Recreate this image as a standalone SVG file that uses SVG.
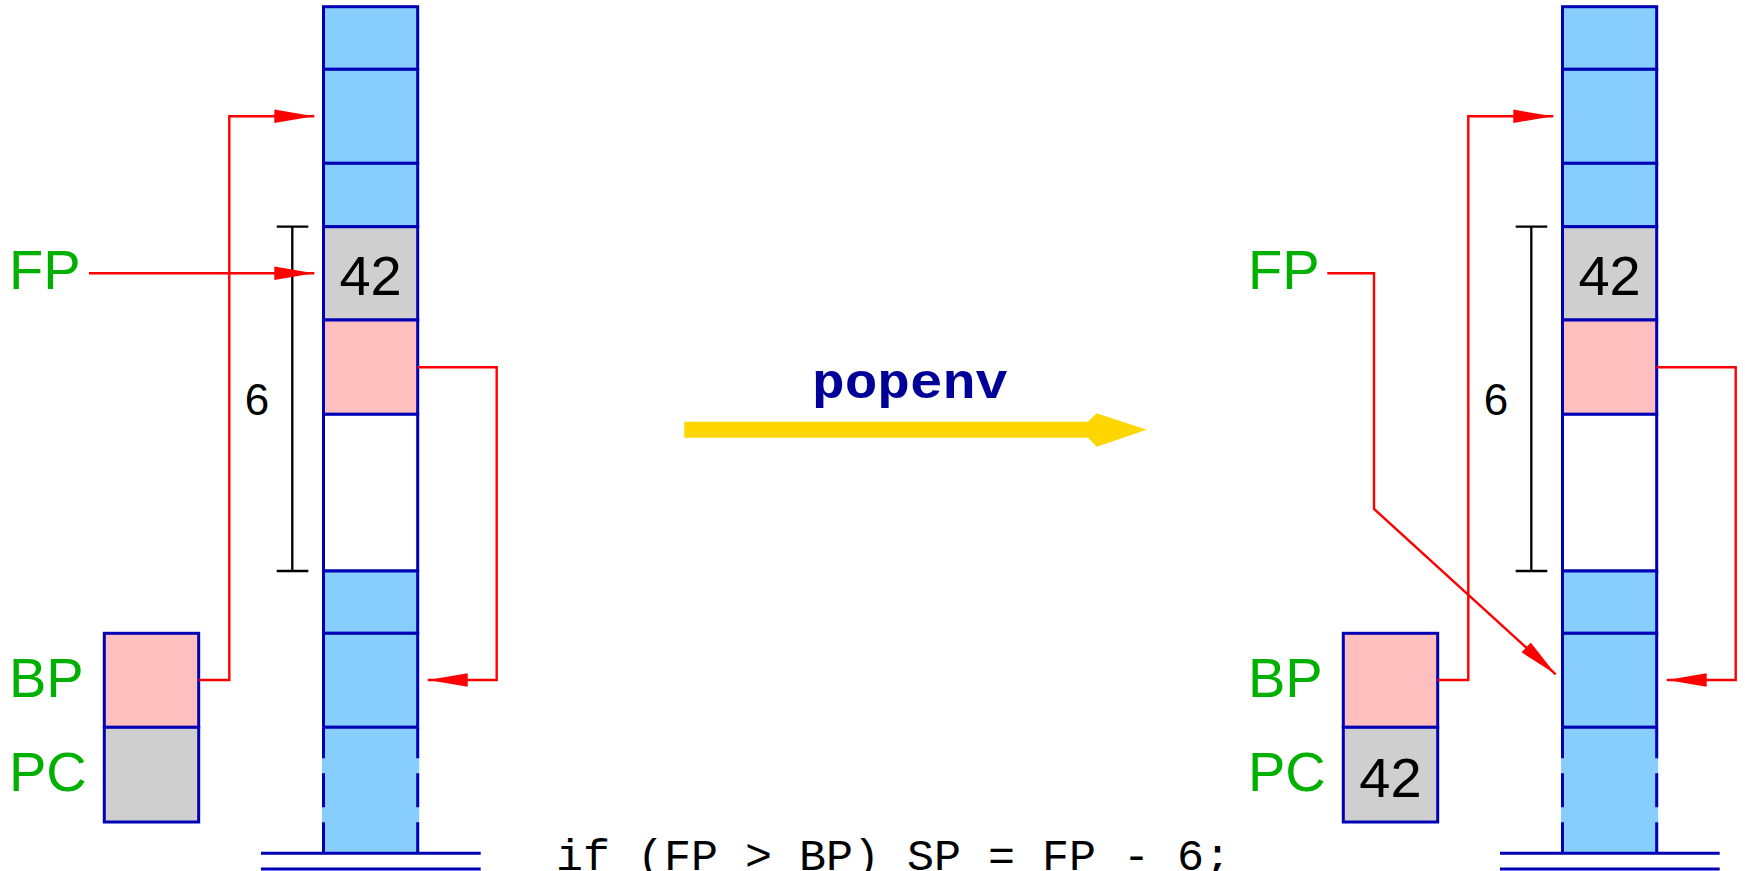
<svg xmlns="http://www.w3.org/2000/svg" width="1745" height="871" viewBox="0 0 1745 871">
<style>
.cell{stroke:#0000B4;stroke-width:3}
.blue{fill:#87CEFF}
.gray{fill:#CFCFCF}
.pink{fill:#FFBFBF}
.white{fill:#FFFFFF}
.edge{stroke:#0000B4;stroke-width:3;fill:none}
.dash{stroke:#0000B4;stroke-width:3;fill:none;stroke-dasharray:31 15 34 15 31}
.reg{font-family:"Liberation Sans",Arial,sans-serif;font-size:56px;fill:#00B000}
.num{font-family:"Liberation Sans",Arial,sans-serif;font-size:56px;fill:#000;text-anchor:middle}
.six{font-family:"Liberation Sans",Arial,sans-serif;font-size:44px;fill:#000;text-anchor:middle}
.ptr{stroke:#FF0000;stroke-width:2.4;fill:none;marker-end:url(#ah)}
.brk{stroke:#000;stroke-width:2.3;fill:none}
.code{font-family:"Liberation Mono","Courier New",monospace;font-size:45px;fill:#000}
.op{font-family:"Liberation Mono","Courier New",monospace;font-size:50px;font-weight:bold;fill:#000099;text-anchor:middle}
</style>
<defs>
<marker id="ah" markerUnits="userSpaceOnUse" viewBox="0 -7 40 14" refX="40" refY="0" markerWidth="40" markerHeight="14" orient="auto">
<path d="M0,-6.7 L40,0 L0,6.7 z" fill="#FF0000"/>
</marker>
<g id="stackT">
<rect class="cell blue" x="323.5" y="6.7" width="94.2" height="62.6"/>
<rect class="cell blue" x="323.5" y="69.3" width="94.2" height="94"/>
<rect class="cell blue" x="323.5" y="163.3" width="94.2" height="63.4"/>
<rect class="cell gray" x="323.5" y="226.7" width="94.2" height="93.3"/>
<rect class="cell pink" x="323.5" y="320" width="94.2" height="94.3"/>
<rect class="cell white" x="323.5" y="414.3" width="94.2" height="156.7"/>
<rect class="cell blue" x="323.5" y="571" width="94.2" height="62.3"/>
<rect class="cell blue" x="323.5" y="633.3" width="94.2" height="94"/>
<rect class="blue" x="322" y="727.3" width="97.2" height="126"/>
<line class="edge" x1="323.5" y1="727.3" x2="417.7" y2="727.3"/>
<line class="dash" x1="323.5" y1="727.3" x2="323.5" y2="853.3"/>
<line class="dash" x1="417.7" y1="727.3" x2="417.7" y2="853.3"/>
<line class="edge" x1="261" y1="853.3" x2="480.7" y2="853.3"/>
<line class="edge" x1="261" y1="869" x2="480.7" y2="869"/>
<text class="num" x="370.6" y="295">42</text>
<path class="brk" d="M276.7,226.7 H308.3 M292.3,226.7 V571 M276.7,571 H308.3"/>
<text class="six" x="257" y="415">6</text>
</g>
</defs>

<g id="left-stack"><use href="#stackT"/></g>
<g id="right-stack"><use href="#stackT" transform="translate(1239,0)"/></g>

<g id="left-registers">
<text class="reg" x="9" y="289">FP</text>
<text class="reg" x="9" y="697">BP</text>
<text class="reg" x="9" y="790.7">PC</text>
<rect class="cell pink" x="104.3" y="633.3" width="94.4" height="94"/>
<rect class="cell gray" x="104.3" y="727.3" width="94.4" height="94.7"/>
</g>

<g id="right-registers">
<text class="reg" x="1248" y="289">FP</text>
<text class="reg" x="1248" y="697">BP</text>
<text class="reg" x="1248" y="790.7">PC</text>
<rect class="cell pink" x="1343.3" y="633.3" width="94.4" height="94"/>
<rect class="cell gray" x="1343.3" y="727.3" width="94.4" height="94.7"/>
<text class="num" x="1390.5" y="796.5">42</text>
</g>

<g id="transition">
<text class="op" x="910" y="398.3" textLength="196" lengthAdjust="spacingAndGlyphs">popenv</text>
<polygon points="684.3,421.7 1088,421.7 1096.7,413.3 1146.7,429.7 1096.7,446.7 1088,437.7 684.3,437.7" fill="#FFD700"/>
<text class="code" x="556" y="870">if (FP &gt; BP) SP = FP - 6;</text>
</g>

<g id="connectors">
<path class="ptr" d="M89,273.3 H314.3"/>
<path class="ptr" d="M198.7,680 H229.3 V116.3 H314.3"/>
<path class="ptr" d="M417.7,367.3 H496.7 V680 H427.7"/>
<path class="ptr" d="M1327.3,273.3 H1374 V509 L1555.7,674.3"/>
<path class="ptr" d="M1437.7,680 H1468.3 V116.3 H1553.3"/>
<path class="ptr" d="M1656.7,367.3 H1735.7 V680 H1666.7"/>
</g>
</svg>
